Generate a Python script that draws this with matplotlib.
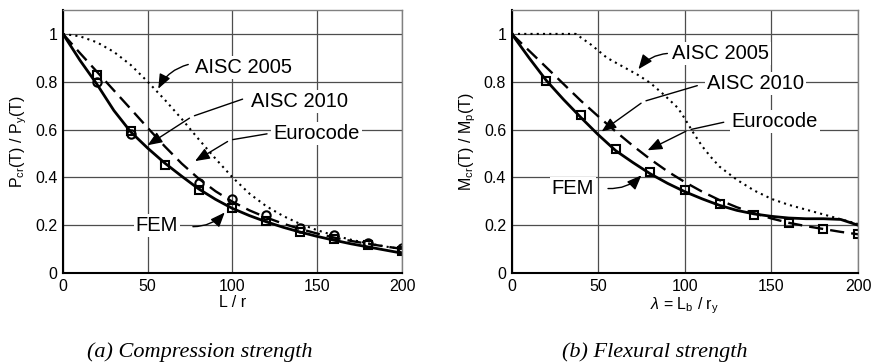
import numpy as np
import matplotlib
matplotlib.use("Agg")
import matplotlib.pyplot as plt

plt.rcParams['font.family'] = ['Liberation Sans', 'DejaVu Sans']
plt.rcParams['mathtext.fontset'] = 'custom'
plt.rcParams['mathtext.rm'] = 'Liberation Sans'
plt.rcParams['mathtext.it'] = 'Liberation Sans:italic'

# ---- data ----
lam = np.arange(0, 201, 10)

# (a) compression
comp_aisc2010 = [1.0, 0.89, 0.79, 0.68, 0.59, 0.522, 0.46, 0.405, 0.352, 0.308, 0.27,
                 0.24, 0.214, 0.191, 0.171, 0.153, 0.137, 0.122, 0.109, 0.096, 0.083]
comp_euro = [1.0, 0.92, 0.842, 0.764, 0.686, 0.607, 0.53, 0.458, 0.395, 0.342, 0.298,
             0.262, 0.232, 0.206, 0.184, 0.165, 0.148, 0.134, 0.122, 0.111, 0.101]
comp_aisc2005 = [1.0, 0.99, 0.965, 0.925, 0.87, 0.80, 0.725, 0.645, 0.56, 0.478, 0.40,
                 0.332, 0.279, 0.238, 0.205, 0.179, 0.157, 0.139, 0.124, 0.111, 0.100]
fem_lam = [20, 40, 60, 80, 100, 120, 140, 160, 180, 200]
comp_fem_sq = [0.83, 0.595, 0.452, 0.347, 0.27, 0.219, 0.17, 0.142, 0.117, 0.093]
fem_lam_c = [20, 40, 80, 100, 120, 140, 160, 180, 200]
comp_fem_ci = [0.797, 0.58, 0.378, 0.31, 0.243, 0.19, 0.158, 0.127, 0.103]

# (b) flexure
flex_aisc2010 = [1.0, 0.9, 0.805, 0.725, 0.65, 0.578, 0.512, 0.462, 0.415, 0.375, 0.34,
                 0.31, 0.283, 0.262, 0.247, 0.237, 0.23, 0.227, 0.227, 0.224, 0.20]
flex_euro = [1.0, 0.93, 0.86, 0.79, 0.72, 0.655, 0.592, 0.532, 0.476, 0.425, 0.38,
             0.34, 0.305, 0.275, 0.25, 0.228, 0.21, 0.196, 0.184, 0.172, 0.162]
flex_lam05 = [0, 37, 46, 55, 65, 73, 80, 88, 96, 100, 105, 110, 115, 120, 130, 140,
              150, 160, 170, 180, 190, 200]
flex_aisc2005 = [1.0, 1.0, 0.954, 0.9, 0.86, 0.828, 0.795, 0.745, 0.69, 0.645, 0.585,
                 0.53, 0.485, 0.445, 0.39, 0.345, 0.31, 0.285, 0.265, 0.245, 0.225, 0.205]
flex_fem = [0.803, 0.661, 0.52, 0.424, 0.347, 0.289, 0.243, 0.208, 0.184, 0.162]

fig = plt.figure(figsize=(8.77, 3.64), dpi=100)
ax1 = fig.add_axes([0.0718, 0.25, 0.3866, 0.7225])
ax2 = fig.add_axes([0.5835, 0.25, 0.3949, 0.7225])


def style(ax):
    ax.set_xlim(0, 200)
    ax.set_ylim(0, 1.1)
    ax.set_xticks([0, 50, 100, 150, 200])
    ax.set_yticks([0, 0.2, 0.4, 0.6, 0.8, 1.0])
    ax.set_yticklabels(['0', '0.2', '0.4', '0.6', '0.8', '1'])
    ax.grid(True, color='0.3', lw=0.9)
    ax.set_axisbelow(True)
    ax.tick_params(length=0, labelsize=11.5, pad=4)
    for s in ['left', 'bottom']:
        ax.spines[s].set_linewidth(1.5)
        ax.spines[s].set_color('black')
    for s in ['top', 'right']:
        ax.spines[s].set_linewidth(1.0)
        ax.spines[s].set_color('0.5')


def label(ax, txt, xytext):
    ax.text(xytext[0], xytext[1], txt, fontsize=14.5, va='center', ha='left',
            bbox=dict(facecolor='white', edgecolor='none', pad=1.5), zorder=6)


ap = dict(arrowstyle='-|>,head_length=0.55,head_width=0.22', color='black',
          lw=1.0, mutation_scale=16)
plain = dict(arrowstyle='-', color='black', lw=1.0)

# ---- (a) ----
ax = ax1
style(ax)
ax.plot(lam, comp_aisc2005, color='black', lw=1.5, ls=(0, (1, 2)))
ax.plot(lam, comp_euro, color='black', lw=1.7, ls=(0, (6, 3)))
ax.plot(lam, comp_aisc2010, color='black', lw=2.0)
ax.plot(fem_lam, comp_fem_sq, 's', mfc='none', mec='black', mew=1.5, ms=6)
ax.plot(fem_lam_c, comp_fem_ci, 'o', mfc='none', mec='black', mew=1.5, ms=6)
ax.set_xlabel('L / r', fontsize=11.5, labelpad=1)
ax.set_ylabel(r'P$_{\rm cr}$(T) / P$_{\rm y}$(T)', fontsize=11.5, labelpad=4)

label(ax, 'AISC 2005', (78, 0.86))
ax.annotate('', xy=(55.5, 0.76), xytext=(75.5, 0.875),
            arrowprops=dict(ap, connectionstyle='arc3,rad=0.25'))
label(ax, 'AISC 2010', (111, 0.717))
ax.annotate('', xy=(76, 0.654), xytext=(107.5, 0.731), arrowprops=plain)
ax.annotate('', xy=(48.5, 0.528), xytext=(76, 0.654), arrowprops=ap)
label(ax, 'Eurocode', (124, 0.584))
ax.annotate('', xy=(98.5, 0.556), xytext=(122, 0.584), arrowprops=plain)
ax.annotate('', xy=(76.5, 0.462), xytext=(98.5, 0.556), arrowprops=ap)
label(ax, 'FEM', (43, 0.2))
ax.annotate('', xy=(96.5, 0.262), xytext=(75, 0.194),
            arrowprops=dict(ap, connectionstyle='arc3,rad=0.25'))

# ---- (b) ----
ax = ax2
style(ax)
ax.plot(flex_lam05, flex_aisc2005, color='black', lw=1.5, ls=(0, (1, 2)))
ax.plot(lam, flex_euro, color='black', lw=1.7, ls=(0, (6, 3)))
ax.plot(lam, flex_aisc2010, color='black', lw=2.0)
ax.plot(fem_lam, flex_fem, 's', mfc='none', mec='black', mew=1.5, ms=6)
ax.set_xlabel(r'$\lambda$ = L$_{\rm b}$ / r$_{\rm y}$', fontsize=11.5, labelpad=1)
ax.set_ylabel(r'M$_{\rm cr}$(T) / M$_{\rm p}$(T)', fontsize=11.5, labelpad=4)

label(ax, 'AISC 2005', (92.5, 0.919))
ax.annotate('', xy=(72.2, 0.843), xytext=(91.5, 0.919),
            arrowprops=dict(ap, connectionstyle='arc3,rad=0.25'))
label(ax, 'AISC 2010', (112.5, 0.794))
ax.annotate('', xy=(76, 0.717), xytext=(108.7, 0.787), arrowprops=plain)
ax.annotate('', xy=(50.6, 0.585), xytext=(76, 0.717), arrowprops=ap)
label(ax, 'Eurocode', (127, 0.633))
ax.annotate('', xy=(102, 0.598), xytext=(124, 0.633), arrowprops=plain)
ax.annotate('', xy=(77, 0.508), xytext=(102, 0.598), arrowprops=ap)
label(ax, 'FEM', (23, 0.354))
ax.annotate('', xy=(76, 0.417), xytext=(54, 0.354),
            arrowprops=dict(ap, connectionstyle='arc3,rad=0.25'))

fig.text(0.228, 0.033, '(a) Compression strength', fontsize=16, style='italic',
         family='Liberation Serif', ha='center', va='center')
fig.text(0.747, 0.033, '(b) Flexural strength', fontsize=16, style='italic',
         family='Liberation Serif', ha='center', va='center')

fig.savefig('out.png', dpi=100)
